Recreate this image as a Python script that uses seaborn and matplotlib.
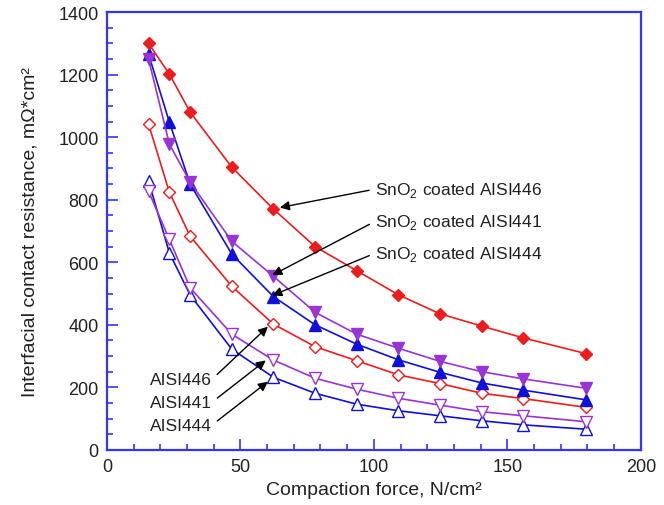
import numpy as np
import matplotlib.pyplot as plt
import seaborn as sns
import pandas as pd
from matplotlib.ticker import MultipleLocator

sns.set_style("white")
plt.rcParams['font.family'] = ['Liberation Sans', 'DejaVu Sans']
plt.rcParams['mathtext.fontset'] = 'custom'
plt.rcParams['mathtext.rm'] = 'Liberation Sans'

# Compaction force, N/cm2
force = [15.6, 23.4, 31.2, 46.8, 62.4, 78.0, 93.6, 109.2, 124.8, 140.4, 156.0, 179.4]

# Interfacial contact resistance, mOhm*cm2
coated_446 = [1300, 1202, 1080, 904, 770, 650, 573, 496, 435, 396, 358, 308]
coated_441 = [1250, 978, 856, 667, 555, 440, 370, 325, 283, 250, 227, 197]
coated_444 = [1266, 1048, 850, 626, 490, 400, 338, 288, 248, 214, 191, 160]
bare_446 = [1042, 824, 683, 523, 402, 330, 285, 240, 212, 181, 164, 136]
bare_441 = [827, 673, 518, 370, 287, 229, 194, 165, 143, 122, 109, 90]
bare_444 = [860, 630, 495, 322, 232, 181, 146, 125, 109, 93, 80, 66]

red = '#ee1c1c'
blue = '#1010dd'
purple = '#9a33d6'

series = [
    (bare_444, blue, '^', False),
    (bare_441, purple, 'v', False),
    (bare_446, red, 'D', False),
    (coated_444, blue, '^', True),
    (coated_441, purple, 'v', True),
    (coated_446, red, 'D', True),
]

fig = plt.figure(figsize=(6.64, 5.06), dpi=100)
ax = fig.add_axes([0.161, 0.109, 0.804, 0.865])

for vals, col, mk, filled in series:
    df = pd.DataFrame({'force': force, 'icr': vals})
    ms = 6 if mk == 'D' else 8
    sns.lineplot(data=df, x='force', y='icr', ax=ax, color=col, lw=1.2,
                 marker=mk, markersize=ms, markeredgecolor=col,
                 markerfacecolor=col if filled else 'white',
                 markeredgewidth=1.0)

ax.set_xlim(0, 200)
ax.set_ylim(0, 1400)
ax.xaxis.set_major_locator(MultipleLocator(50))
ax.xaxis.set_minor_locator(MultipleLocator(10))
ax.yaxis.set_major_locator(MultipleLocator(200))
ax.yaxis.set_minor_locator(MultipleLocator(50))
ax.tick_params(which='both', direction='in', color='#3333ff', labelsize=13,
               labelcolor='#222222', top=False, right=False, left=True, bottom=True)
ax.tick_params(which='major', length=8, width=1.2, pad=6)
ax.tick_params(which='minor', length=4, width=1.2)
for sp in ax.spines.values():
    sp.set_color('#3333ff')
    sp.set_linewidth(1.6)

ax.set_xlabel('Compaction force, N/cm²', fontsize=14, color='#222222', labelpad=4)
ax.set_ylabel('Interfacial contact resistance, mΩ*cm²', fontsize=14, color='#222222',
              labelpad=14)

ann = [
    ('SnO$_\\mathrm{2}$ coated AISI446', (64.8, 775), (100.5, 834), 'left'),
    ('SnO$_\\mathrm{2}$ coated AISI441', (62.0, 559), (100.5, 731), 'left'),
    ('SnO$_\\mathrm{2}$ coated AISI444', (62.0, 494), (100.5, 629), 'left'),
    ('AISI446', (60.3, 394), (39.3, 225), 'right'),
    ('AISI441', (59.5, 286), (39.3, 152), 'right'),
    ('AISI444', (60.3, 218), (39.3, 79), 'right'),
]
for txt, xy, xyt, ha in ann:
    rel = (0, 0.5) if ha == 'left' else (1, 0.5)
    arrow = dict(arrowstyle='-|>', color='black', lw=1.0, mutation_scale=14,
                 shrinkA=2, shrinkB=0, relpos=rel)
    ax.annotate(txt, xy=xy, xytext=xyt, ha=ha, va='center', fontsize=12.5,
                color='#222222', arrowprops=arrow)

fig.savefig('out.png', dpi=100)
